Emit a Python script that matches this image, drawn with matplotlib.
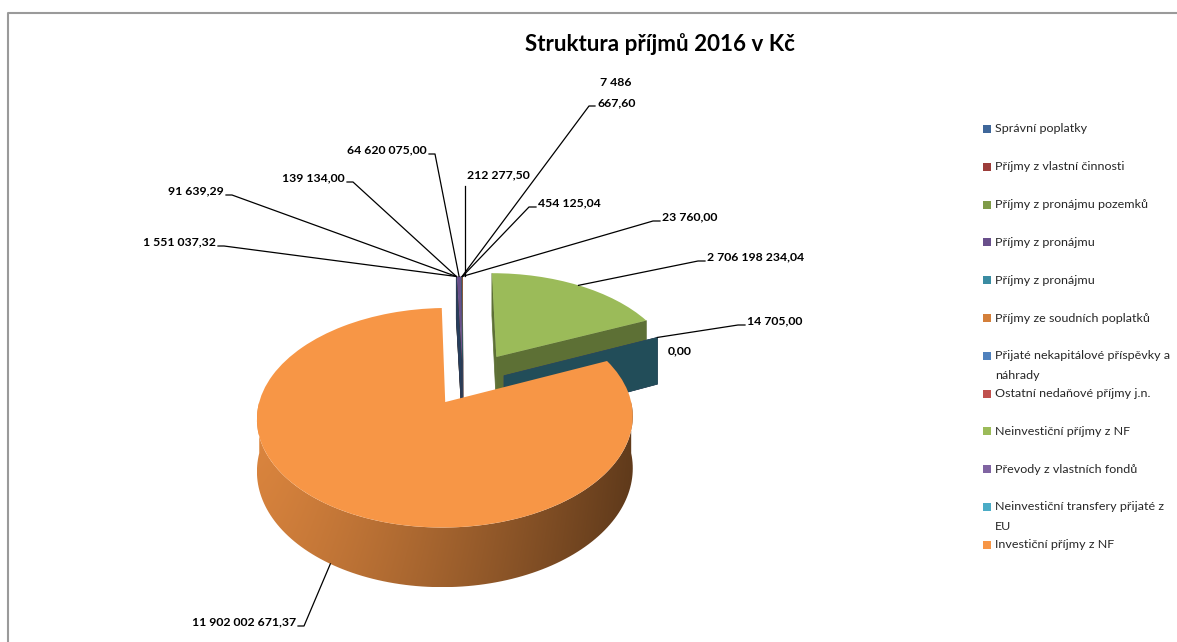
import textwrap
import numpy as np
import matplotlib
matplotlib.use('Agg')
import matplotlib.pyplot as plt
from matplotlib.patches import Polygon, Rectangle
from matplotlib.transforms import Transform
from matplotlib.lines import Line2D

# --- data ---
title = 'Struktura příjmů 2016 v Kč'
categories = [
    'Správní poplatky',
    'Příjmy z vlastní činnosti',
    'Příjmy z pronájmu pozemků',
    'Příjmy z pronájmu',
    'Příjmy z pronájmu',
    'Příjmy ze soudních poplatků',
    'Přijaté nekapitálové příspěvky a náhrady',
    'Ostatní nedaňové příjmy j.n.',
    'Neinvestiční příjmy z NF',
    'Převody z vlastních fondů',
    'Neinvestiční transfery přijaté z EU',
    'Investiční příjmy z NF',
]
values = [1551037.32, 91639.29, 139134.00, 64620075.00, 212277.50, 7486667.60,
          454125.04, 23760.00, 2706198234.04, 14705.00, 0.00, 11902002671.37]
colors = ['#3F679A', '#9C3D3A', '#7F9B48', '#694F8B', '#3A8CA2', '#D47F3A',
          '#4F81BD', '#C0504D', '#9BBB59', '#8064A2', '#4BACC6', '#F79646']

FONT = ['Lato', 'DejaVu Sans']
W, H = 1177, 642

# pie geometry (pixels) with a little perspective
CX, CY = 463, 386
RX, RY = 182, 103
DEPTH = 50
PERSP = 0.14
explode = [0.25] * 8 + [0.35, 0.25, 0.25, 0.18]

# label layout: (x edge, y centre, mode, wrap width)
label_pos = [
    (216, 242, 'right', None),
    (224, 191, 'right', None),
    (345, 178, 'right', None),
    (427, 150, 'right', None),
    (498, 175, 'top', None),
    (597, 93, 'wrap', 6),
    (538, 203, 'left', None),
    (662, 217, 'left', None),
    (707, 257, 'left', None),
    (747, 321, 'left', None),
    (668, 351, 'none', None),
    (296, 622, 'right', None),
]


def fmt(v):
    return f'{v:,.2f}'.replace(',', ' ').replace('.', ',')


def proj(x, y, z=0.0):
    s = 1.0 / (1.0 + PERSP * y)
    return CX + RX * x * s, CY - (RY * y + DEPTH * z) * s


class Persp(Transform):
    input_dims = 2
    output_dims = 2

    def transform_non_affine(self, v):
        v = np.asarray(v, dtype=float)
        xs, ys = proj(v[:, 0], v[:, 1])
        return np.column_stack([xs, ys])


fig = plt.figure(figsize=(W / 100, H / 100), dpi=100)
ax = fig.add_axes([0, 0, 1, 1])
renderer = fig.canvas.get_renderer()


def fit_size(text, target, weight):
    t = fig.text(0, 0, text, fontsize=10, fontweight=weight, family=FONT)
    w = t.get_window_extent(renderer=renderer).width
    t.remove()
    return 10 * target / w


title_fs = fit_size(title, 270, 'bold')
label_fs = fit_size(fmt(values[11]), 104, 'bold')
legend_fs = fit_size('Přijaté nekapitálové příspěvky a', 174, 'normal')

wedges, _ = ax.pie(values, explode=explode, colors=colors, startangle=92,
                   counterclock=False, radius=1, center=(0, 0),
                   wedgeprops=dict(linewidth=0))

ax.set_xlim(0, W)
ax.set_ylim(H, 0)
ax.set_aspect('auto')
ax.axis('off')

for w in wedges:
    w.set_transform(Persp() + ax.transData)
    w.set_zorder(10)


def shade(c, f):
    r, g, b = matplotlib.colors.to_rgb(c)
    return np.array([r * f, g * f, b * f])


# side faces of the 3D pie: (screen depth, polygon, colour or gradient)
faces = []
for i, w in enumerate(wedges):
    cx, cy = w.center
    r = w.r
    t1, t2 = w.theta1, w.theta2
    # outer rim, only the front half
    for k in (-1, 0, 1):
        a0 = max(t1, 180 + 360 * k)
        a1 = min(t2, 360 + 360 * k)
        if a1 <= a0:
            continue
        angs = np.radians(np.linspace(a0, a1, 120))
        xs, ys = cx + r * np.cos(angs), cy + r * np.sin(angs)
        top = [proj(x, y) for x, y in zip(xs, ys)]
        bot = [proj(x, y, -1) for x, y in zip(xs, ys)]
        poly = top + bot[::-1]
        faces.append((max(p[1] for p in top), poly, ('grad', colors[i])))
    # cut faces
    for ang, nrm in ((t1, t1 - 90), (t2, t2 + 90)):
        if np.sin(np.radians(nrm)) >= 0:
            continue
        a = np.radians(ang)
        xr, yr = cx + r * np.cos(a), cy + r * np.sin(a)
        f = 0.45 if values[i] == 0 else 0.6
        poly = [proj(cx, cy), proj(xr, yr), proj(xr, yr, -1), proj(cx, cy, -1)]
        faces.append(((poly[0][1] + poly[1][1]) / 2, poly, ('flat', shade(colors[i], f))))

faces.sort(key=lambda t: t[0])
for z, (_, poly, (kind, col)) in enumerate(faces):
    zo = 1 + z * 1e-2
    if kind == 'flat':
        ax.add_patch(Polygon(poly, closed=True, facecolor=col, edgecolor=col,
                             linewidth=0.5, zorder=zo))
        continue
    pts = np.array(poly)
    x0, x1 = pts[:, 0].min(), pts[:, 0].max()
    y0, y1 = pts[:, 1].min(), pts[:, 1].max()
    u = np.linspace(0, 1, 256)
    v = np.linspace(0, 1, 64)
    fx = 0.9 - 0.5 * u ** 1.3
    fy = 1.0 - 0.08 * v
    img = shade(col, 1)[None, None, :] * (fx[None, :, None] * fy[:, None, None])
    clip = Polygon(poly, closed=True, facecolor='none', edgecolor='none')
    ax.add_patch(clip)
    im = ax.imshow(np.clip(img, 0, 1), extent=(x0, x1, y1, y0), aspect='auto',
                   interpolation='bilinear', zorder=zo)
    im.set_clip_path(clip)

ax.set_xlim(0, W)
ax.set_ylim(H, 0)

# data labels with leader lines
for i, w in enumerate(wedges):
    x, y, mode, wrap = label_pos[i]
    txt = fmt(values[i])
    kw = dict(fontsize=label_fs, fontweight='bold', family=FONT, color='black',
              zorder=20)
    cx, cy = w.center
    tm = np.radians((w.theta1 + w.theta2) / 2)
    zz = -1 if np.sin(tm) < -0.3 else 0
    ax_, ay_ = proj(cx + w.r * np.cos(tm), cy + w.r * np.sin(tm), zz)
    if mode == 'none':
        ax.text(x, y, txt, ha='left', va='center', **kw)
        continue
    if mode == 'right':
        ax.text(x, y, txt, ha='right', va='center', **kw)
        pts = [(x + 2, y + 4), (x + 8, y + 4), (ax_, ay_)]
    elif mode == 'left':
        ax.text(x, y, txt, ha='left', va='center', **kw)
        pts = [(x - 2, y + 4), (x - 9, y + 4), (ax_, ay_)]
    elif mode == 'top':
        ax.text(x, y, txt, ha='center', va='center', **kw)
        pts = [(ax_ + 3, y + 11), (ax_ + 3, ay_)]
    else:
        lines = textwrap.wrap(txt, wrap)
        ax.text(x + 19, y - 10, lines[0], ha='center', va='center', **kw)
        ax.text(x, y + 10, lines[1], ha='left', va='center', **kw)
        pts = [(x - 2, y + 13), (x - 8, y + 13), (ax_, ay_)]
    xs, ys = zip(*pts)
    ax.add_line(Line2D(xs, ys, color='black', linewidth=0.9, zorder=15))

# title
ax.text(660, 44, title, ha='center', va='center', fontsize=title_fs,
        fontweight='bold', family=FONT, color='black')

# legend
for i, name in enumerate(categories):
    yc = 129 + 37.8 * i
    ax.add_patch(Rectangle((983, yc - 4), 8, 8, facecolor=colors[i], linewidth=0))
    for j, line in enumerate(textwrap.wrap(name, 32)):
        ax.text(995, yc + 20 * j, line, ha='left', va='center',
                fontsize=legend_fs, family=FONT, color='#262626')

# chart border
ax.add_line(Line2D([7.5, 7.5, W], [H, 12.5, 12.5], color='#9A9A9A',
                   linewidth=1.5, zorder=30))

fig.savefig('out.png', dpi=100)
